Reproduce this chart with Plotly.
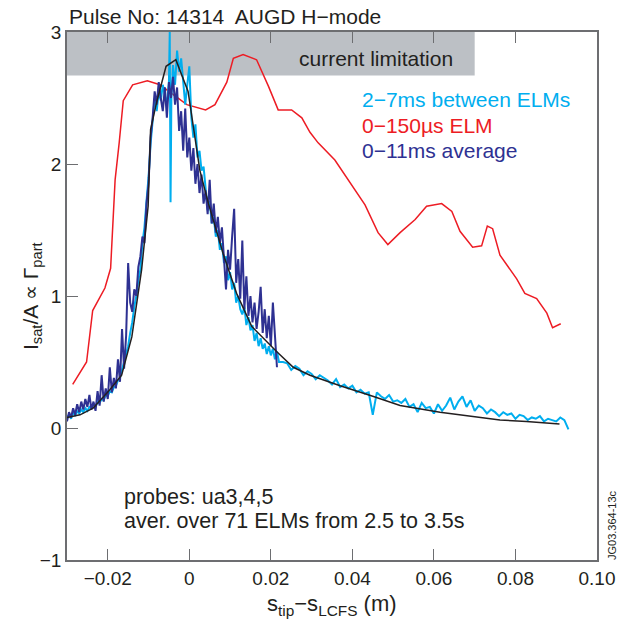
import plotly.graph_objects as go

# ---------------- data ----------------
red_x = [-0.0286, -0.0252, -0.0237, -0.0207, -0.0193, -0.0182, -0.0172, -0.0162, -0.0139, -0.0103,
         -0.0072, -0.0006, 0.0040, 0.0063, 0.0092, 0.0108, 0.0132, 0.0165, 0.0194, 0.0218,
         0.0251, 0.0276, 0.0296, 0.0316, 0.0357, 0.0399, 0.0431, 0.0463, 0.0487, 0.0517,
         0.0554, 0.0582, 0.0619, 0.0644, 0.0664, 0.0695, 0.0717, 0.0731, 0.0744, 0.0762,
         0.0803, 0.0823, 0.0852, 0.0877, 0.0891, 0.0911]
red_y = [0.33, 0.50, 0.89, 1.06, 1.21, 1.88, 2.16, 2.48, 2.60, 2.63,
         2.60, 2.45, 2.41, 2.45, 2.62, 2.80, 2.83, 2.79, 2.59, 2.41,
         2.41, 2.35, 2.24, 2.16, 2.03, 1.84, 1.69, 1.48, 1.39, 1.48,
         1.58, 1.68, 1.70, 1.64, 1.49, 1.37, 1.38, 1.53, 1.51, 1.31,
         1.13, 1.02, 0.98, 0.87, 0.76, 0.79]

black_x = [-0.0300, -0.0268, -0.0236, -0.0195, -0.0166, -0.0141, -0.0117, -0.0101, -0.0095, -0.0080,
           -0.0057, -0.0033, -0.0003, 0.0010, 0.0026, 0.0047, 0.0083, 0.0116, 0.0153, 0.0214,
           0.0255, 0.0296, 0.0370, 0.0450, 0.0517, 0.0615, 0.0762, 0.0827, 0.0908]
black_y = [0.08, 0.10, 0.15, 0.29, 0.40, 0.69, 1.20, 1.68, 2.26, 2.47,
           2.74, 2.79, 2.55, 2.28, 1.95, 1.70, 1.32, 1.02, 0.77, 0.58,
           0.46, 0.40, 0.32, 0.24, 0.17, 0.12, 0.06, 0.05, 0.03]

navy_x = [-0.0300, -0.0295, -0.0290, -0.0285, -0.0280, -0.0275, -0.0270, -0.0265, -0.0260, -0.0255,
          -0.0250, -0.0245, -0.0240, -0.0235, -0.0230, -0.0225, -0.0220, -0.0215, -0.0210, -0.0205,
          -0.0200, -0.0195, -0.0190, -0.0185, -0.0180, -0.0175, -0.0170, -0.0165, -0.0160, -0.0155,
          -0.0150, -0.0145, -0.0140, -0.0135, -0.0130, -0.0125, -0.0120, -0.0115, -0.0110, -0.0105,
          -0.0100, -0.0095, -0.0090, -0.0085, -0.0080, -0.0075, -0.0070, -0.0065, -0.0060, -0.0055,
          -0.0050, -0.0045, -0.0040, -0.0035, -0.0030, -0.0025, -0.0020, -0.0015, -0.0010, -0.0005,
          0.0000, 0.0005, 0.0010, 0.0015, 0.0020, 0.0025, 0.0030, 0.0035, 0.0040, 0.0045,
          0.0050, 0.0055, 0.0060, 0.0065, 0.0070, 0.0075, 0.0080, 0.0085, 0.0090, 0.0095,
          0.0100, 0.0105, 0.0110, 0.0115, 0.0120, 0.0125, 0.0130, 0.0135, 0.0140, 0.0145,
          0.0150, 0.0155, 0.0160, 0.0165, 0.0170, 0.0175, 0.0180, 0.0185, 0.0190, 0.0195,
          0.0200, 0.0205, 0.0210, 0.0215]
navy_y = [0.05, 0.12, 0.08, 0.15, 0.10, 0.18, 0.12, 0.20, 0.14, 0.22,
          0.16, 0.25, 0.14, 0.20, 0.13, 0.28, 0.17, 0.40, 0.20, 0.30,
          0.22, 0.46, 0.27, 0.38, 0.30, 0.52, 0.35, 0.75, 0.45, 0.70,
          1.25, 0.95, 0.88, 1.05, 1.00, 1.22, 1.30, 1.45, 1.40, 1.70,
          1.85, 2.20, 2.35, 2.55, 2.45, 2.62, 2.50, 2.40, 2.58, 2.35,
          2.62, 2.50, 2.66, 2.45, 2.58, 2.25, 2.40, 2.10, 2.42, 2.05,
          2.20, 1.95, 2.12, 1.85, 2.00, 1.78, 1.92, 1.70, 1.80, 1.62,
          1.88, 1.55, 1.70, 1.48, 1.60, 1.40, 1.52, 1.30, 1.05, 1.35,
          1.20, 1.45, 1.66, 1.10, 1.28, 0.98, 1.42, 0.90, 1.15, 0.85,
          1.00, 0.80, 0.95, 0.75, 0.88, 1.07, 0.72, 0.90, 0.68, 0.85,
          0.62, 0.95, 0.70, 0.46]

cyan_x = [-0.0300, -0.0295, -0.0290, -0.0285, -0.0280, -0.0275, -0.0270, -0.0265, -0.0260, -0.0255,
          -0.0250, -0.0245, -0.0240, -0.0235, -0.0230, -0.0225, -0.0220, -0.0215, -0.0210, -0.0205,
          -0.0200, -0.0195, -0.0190, -0.0185, -0.0180, -0.0175, -0.0170, -0.0165, -0.0160, -0.0155,
          -0.0150, -0.0145, -0.0140, -0.0135, -0.0130, -0.0125, -0.0120, -0.0115, -0.0110, -0.0105,
          -0.0100, -0.0095, -0.0090, -0.0085, -0.0080, -0.0075, -0.0070, -0.0065, -0.0060, -0.0055,
          -0.0050, -0.0048, -0.0046, -0.0044, -0.0040, -0.0035, -0.0030, -0.0025, -0.0020, -0.0015,
          -0.0010, -0.0005, 0.0000, 0.0005, 0.0010, 0.0015, 0.0020, 0.0025, 0.0030, 0.0035,
          0.0040, 0.0045, 0.0050, 0.0055, 0.0060, 0.0065, 0.0070, 0.0075, 0.0080, 0.0085,
          0.0090, 0.0095, 0.0100, 0.0105, 0.0110, 0.0115, 0.0120, 0.0125, 0.0130, 0.0135,
          0.0140, 0.0145, 0.0150, 0.0155, 0.0160, 0.0165, 0.0170, 0.0175, 0.0180, 0.0185,
          0.0190, 0.0195, 0.0200, 0.0205, 0.0210, 0.0215, 0.0220,
          0.023, 0.024, 0.025, 0.026, 0.027, 0.028, 0.029, 0.030, 0.031, 0.032,
          0.033, 0.034, 0.035, 0.036, 0.037, 0.038, 0.039, 0.040, 0.041, 0.042,
          0.043, 0.044, 0.045, 0.046, 0.047, 0.048, 0.049, 0.050, 0.051, 0.052,
          0.053, 0.054, 0.055, 0.056, 0.057, 0.058, 0.059, 0.060, 0.061, 0.062,
          0.063, 0.064, 0.065, 0.066, 0.067, 0.068, 0.069, 0.070, 0.071, 0.072,
          0.073, 0.074, 0.075, 0.076, 0.077, 0.078, 0.079, 0.080, 0.081, 0.082,
          0.083, 0.084, 0.085, 0.086, 0.087, 0.088, 0.089, 0.090, 0.091, 0.092,
          0.093]
cyan_y = [0.08, 0.10, 0.07, 0.12, 0.09, 0.13, 0.11, 0.14, 0.12, 0.15,
          0.13, 0.16, 0.15, 0.18, 0.16, 0.20, 0.19, 0.22, 0.21, 0.25,
          0.24, 0.28, 0.27, 0.31, 0.32, 0.36, 0.38, 0.44, 0.50, 0.55,
          0.62, 0.72, 0.80, 0.92, 1.00, 1.12, 1.20, 1.40, 1.52, 1.72,
          1.90, 2.15, 2.30, 2.50, 2.40, 2.55, 2.48, 2.60, 2.52, 2.45,
          2.62, 3.00, 1.71, 2.50, 2.75, 2.60, 2.86, 2.70, 2.80, 2.62,
          2.45, 2.60, 2.74, 2.35, 2.20, 2.30, 2.05, 2.10, 1.95, 1.98,
          1.80, 1.65, 1.72, 1.55, 1.60, 1.45, 1.50, 1.35, 1.40, 1.25,
          1.30, 1.12, 1.18, 1.05, 1.10, 0.95, 1.00, 0.90, 0.86, 0.92,
          0.78, 0.84, 0.74, 0.78, 0.66, 0.72, 0.62, 0.68, 0.60, 0.64,
          0.56, 0.62, 0.55, 0.60, 0.52, 0.58, 0.50,
          0.50, 0.49, 0.44, 0.47, 0.45, 0.40, 0.43, 0.41, 0.37, 0.40,
          0.38, 0.36, 0.33, 0.37, 0.31, 0.33, 0.30, 0.32, 0.27, 0.29,
          0.26, 0.27, 0.10, 0.27, 0.24, 0.22, 0.25, 0.20, 0.21, 0.19,
          0.22, 0.16, 0.18, 0.12, 0.19, 0.15, 0.16, 0.11, 0.18, 0.13,
          0.17, 0.23, 0.14, 0.20, 0.24, 0.16, 0.21, 0.13, 0.17, 0.15,
          0.11, 0.14, 0.12, 0.09, 0.12, 0.10, 0.11, 0.07, 0.10, 0.09,
          0.06, 0.08, 0.07, 0.09, 0.05, 0.07, 0.06, 0.05, 0.08, 0.06,
          -0.01]

x_tickvals = [-0.02, 0.0, 0.02, 0.04, 0.06, 0.08, 0.10]
x_ticktext = ["\u22120.02", "0", "0.02", "0.04", "0.06", "0.08", "0.10"]
y_tickvals = [-1, 0, 1, 2, 3]
y_ticktext = ["\u22121", "0", "1", "2", "3"]

band_x = [-0.03, 0.07]
band_y = [2.67, 3.0]

legend_labels = ["2\u22127ms between ELMs", "0\u2212150\u00b5s ELM", "0\u221211ms average"]

C_CYAN = "#00aeef"
C_RED = "#ed1c24"
C_NAVY = "#2e3192"
C_BLACK = "#231f20"
FONT = "Liberation Sans, Arial, sans-serif"

fig = go.Figure()
fig.add_shape(type="rect", xref="x", yref="y", x0=band_x[0], x1=band_x[1], y0=band_y[0], y1=band_y[1],
              fillcolor="#bcc0c5", line=dict(width=0), layer="below")

fig.add_trace(go.Scatter(x=red_x, y=red_y, mode="lines", line=dict(color=C_RED, width=1.5)))
fig.add_trace(go.Scatter(x=cyan_x, y=cyan_y, mode="lines", line=dict(color=C_CYAN, width=2)))
fig.add_trace(go.Scatter(x=navy_x, y=navy_y, mode="lines", line=dict(color=C_NAVY, width=2)))
fig.add_trace(go.Scatter(x=black_x, y=black_y, mode="lines", line=dict(color=C_BLACK, width=1.5)))

axis_col = "#6d6e71"
fig.update_xaxes(range=[-0.03, 0.10], tickvals=x_tickvals, ticktext=x_ticktext,
                 ticks="inside", ticklen=11, tickcolor=axis_col, tickwidth=1,
                 showline=True, linecolor=axis_col, linewidth=1.5, mirror="ticks",
                 showgrid=False, zeroline=False,
                 tickfont=dict(family=FONT, size=19, color="#231f20"))
fig.update_yaxes(range=[-1, 3], tickvals=y_tickvals, ticktext=y_ticktext,
                 ticks="inside", ticklen=11, tickcolor=axis_col, tickwidth=1,
                 showline=True, linecolor=axis_col, linewidth=1.5, mirror=True,
                 showgrid=False, zeroline=False,
                 tickfont=dict(family=FONT, size=19, color="#231f20"))

ann = []
ann.append(dict(xref="paper", yref="paper", x=0, y=1.03, xanchor="left", yanchor="middle",
                text="Pulse No: 14314  AUGD H\u2212mode", showarrow=False,
                font=dict(family=FONT, size=21, color="#231f20")))
ann.append(dict(xref="x", yref="y", x=0.0652, y=2.80, xanchor="right", yanchor="middle",
                text="current limitation", showarrow=False,
                font=dict(family=FONT, size=21, color="#231f20")))
for lbl, col, yy in zip(legend_labels, [C_CYAN, C_RED, C_NAVY], [2.485, 2.295, 2.10]):
    ann.append(dict(xref="x", yref="y", x=0.0419, y=yy, xanchor="left", yanchor="middle",
                    text=lbl, showarrow=False, font=dict(family=FONT, size=21, color=col)))
ann.append(dict(xref="x", yref="y", x=-0.0165, y=-0.523, xanchor="left", yanchor="middle",
                text="probes: ua3,4,5", showarrow=False, font=dict(family=FONT, size=21.5, color="#231f20")))
ann.append(dict(xref="x", yref="y", x=-0.0165, y=-0.705, xanchor="left", yanchor="middle",
                text="aver. over 71 ELMs from 2.5 to 3.5s", showarrow=False,
                font=dict(family=FONT, size=21.5, color="#231f20")))
ann.append(dict(xref="paper", yref="paper", x=0.5, y=-0.085, xanchor="center", yanchor="middle",
                text="s<sub>tip</sub>\u2212s<sub>LCFS</sub> (m)", showarrow=False,
                font=dict(family=FONT, size=22, color="#231f20")))
ann.append(dict(xref="paper", yref="paper", x=-0.066, y=0.5, xanchor="center", yanchor="middle",
                textangle=-90, text="I<sub>sat</sub>/A \u221d \u0393<sub>part</sub>", showarrow=False,
                font=dict(family=FONT, size=21, color="#231f20")))
ann.append(dict(xref="paper", yref="paper", x=1.028, y=0.066, xanchor="center", yanchor="middle",
                textangle=-90, text="JG03.364-13c", showarrow=False,
                font=dict(family=FONT, size=11, color="#231f20")))

fig.update_layout(width=627, height=622, margin=dict(l=67, r=30, t=32, b=62),
                  plot_bgcolor="white", paper_bgcolor="white", showlegend=False,
                  annotations=ann)

fig.write_html("out.html")
